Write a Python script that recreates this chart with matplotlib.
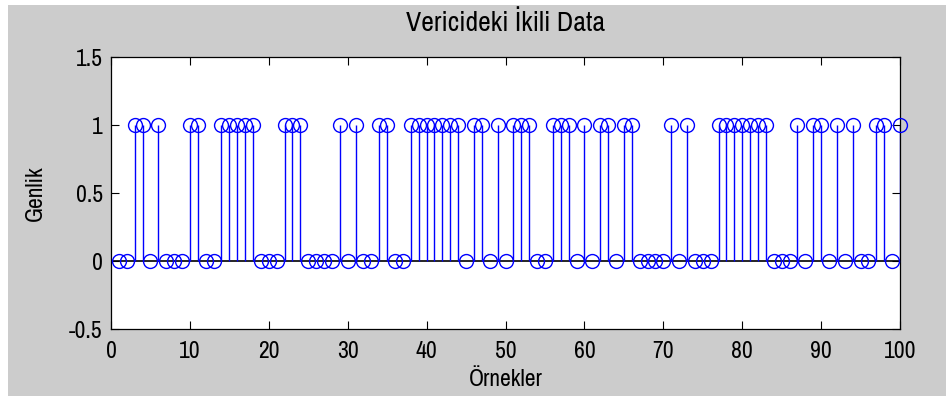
import matplotlib
matplotlib.use("Agg")
import matplotlib.pyplot as plt
from matplotlib.patches import Rectangle

# Transmitted binary sequence, samples 1..100
samples = list(range(1, 101))
bits = [0, 0, 1, 1, 0, 1, 0, 0, 0, 1,
        1, 0, 0, 1, 1, 1, 1, 1, 0, 0,
        0, 1, 1, 1, 0, 0, 0, 0, 1, 0,
        1, 0, 0, 1, 1, 0, 0, 1, 1, 1,
        1, 1, 1, 1, 0, 1, 1, 0, 1, 0,
        1, 1, 1, 0, 0, 1, 1, 1, 0, 1,
        0, 1, 1, 0, 1, 1, 0, 0, 0, 0,
        1, 0, 1, 0, 0, 0, 1, 1, 1, 1,
        1, 1, 1, 0, 0, 0, 1, 0, 1, 1,
        0, 1, 0, 1, 0, 0, 1, 1, 0, 1]

xticks = [0, 10, 20, 30, 40, 50, 60, 70, 80, 90, 100]
yticks = [-0.5, 0, 0.5, 1, 1.5]
ytick_labels = ["-0.5", "0", "0.5", "1", "1.5"]

plt.rcParams["font.family"] = ["Archivo Narrow", "DejaVu Sans"]
FS = 17

W, H = 946, 396
fig = plt.figure(figsize=(W / 100, H / 100), dpi=100, facecolor="white")
# grey window area
fig.patches.append(Rectangle((8 / W, 0), 1 - 8 / W, 1 - 5 / H,
                             transform=fig.transFigure, facecolor="#cccccc",
                             edgecolor="none", zorder=-10))

L, R, T, B = 111, 900, 57, 329
ax = fig.add_axes([L / W, 1 - B / H, (R - L) / W, (B - T) / H])
ax.set_facecolor("white")

ax.plot([0, 100], [0, 0], color="black", lw=1.2, zorder=1)
ax.vlines(samples, 0, bits, color="#0000ff", lw=1.0, zorder=2)
ax.plot(samples, bits, linestyle="none", marker="o", markersize=10,
        markerfacecolor="none", markeredgecolor="#0000ff", markeredgewidth=1.0,
        zorder=3, clip_on=False)

ax.set_xlim(0, 100)
ax.set_ylim(-0.5, 1.5)
ax.set_xticks(xticks)
ax.set_yticks(yticks)
ax.set_yticklabels(ytick_labels)
ax.tick_params(direction="in", top=True, right=True, length=6, width=0.8,
               labelsize=FS, colors="black")
ax.tick_params(axis="x", pad=9)
ax.tick_params(axis="y", pad=6)
for s in ax.spines.values():
    s.set_linewidth(0.9)

ah = B - T
aw = R - L
ax.set_title("Vericideki İkili Data", fontsize=20, y=1 + (T - 32) / ah, va="center")
ax.set_xlabel("Örnekler", fontsize=FS, va="center")
ax.xaxis.set_label_coords(0.5, -(380 - B) / ah)
ax.set_ylabel("Genlik", fontsize=FS, va="center")
ax.yaxis.set_label_coords(-(L - 35) / aw, 0.5)

fig.savefig("out.png", dpi=100, facecolor=fig.get_facecolor())
